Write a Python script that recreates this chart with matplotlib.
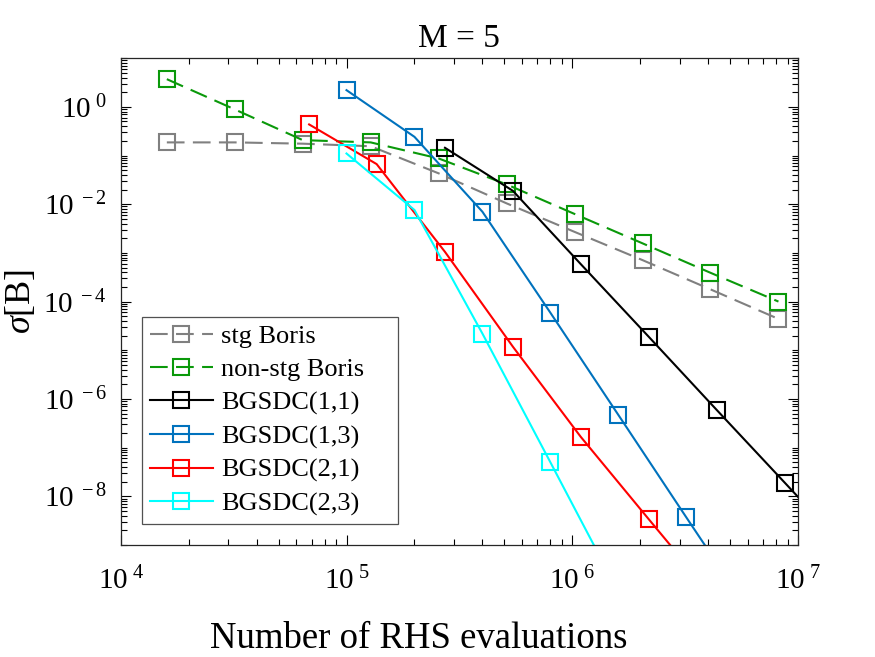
import matplotlib
matplotlib.use("Agg")
import matplotlib.pyplot as plt
import numpy as np
from matplotlib.ticker import LogLocator, FixedLocator, FuncFormatter, NullFormatter

plt.rcParams["font.family"] = ["Liberation Serif", "DejaVu Serif"]
plt.rcParams["mathtext.fontset"] = "custom"
plt.rcParams["mathtext.rm"] = "Liberation Serif"
plt.rcParams["mathtext.it"] = "Liberation Serif:italic"

# number of RHS evaluations
x_boris = [1.6e4, 3.2e4, 6.4e4, 1.28e5, 2.56e5, 5.12e5, 1.024e6, 2.048e6, 4.096e6, 8.192e6]
x_11 = [2.73e5, 5.46e5, 1.09e6, 2.18e6, 4.37e6, 8.74e6, 1.75e7]
x_13 = [1.0e5, 2.0e5, 4.0e5, 8.0e5, 1.6e6, 3.2e6, 6.4e6]
x_21 = [6.83e4, 1.36e5, 2.73e5, 5.46e5, 1.09e6, 2.18e6, 4.37e6]
x_23 = [1.0e5, 2.0e5, 4.0e5, 8.0e5, 1.6e6]

# sigma[B]
y_stg = [0.186, 0.186, 0.175, 0.155, 0.043, 0.0104, 2.7e-3, 7.1e-4, 1.78e-4, 4.4e-5]
y_nonstg = [3.7, 0.885, 0.207, 0.186, 0.087, 0.0255, 6.3e-3, 1.57e-3, 3.9e-4, 1.0e-4]
y_11 = [0.144, 0.0188, 5.9e-4, 1.9e-5, 5.9e-7, 1.9e-8, 6e-10]
y_13 = [2.2, 0.242, 7.0e-3, 5.9e-5, 4.7e-7, 3.7e-9, 3e-11]
y_21 = [0.435, 0.0666, 1.05e-3, 1.18e-5, 1.67e-7, 3.4e-9, 7e-11]
y_23 = [0.11, 7.6e-3, 2.2e-5, 5.0e-8, 1.1e-10]

labels = ["stg Boris", "non-stg Boris", "BGSDC(1,1)", "BGSDC(1,3)", "BGSDC(2,1)", "BGSDC(2,3)"]
xticks = [1e4, 1e5, 1e6, 1e7]
yticks = [1e-8, 1e-6, 1e-4, 1e-2, 1e0]

fig = plt.figure(figsize=(8.75, 6.57), dpi=100)
ax = fig.add_axes([0.138, 0.1705, 0.774, 0.741])

common = dict(marker="s", markersize=12, markerfacecolor="none", markeredgewidth=1.5, linewidth=1.5)
dash = (0, (8.5, 4))
ax.plot(x_boris, y_stg, color="#808080", linestyle=dash, label=labels[0], **common)
ax.plot(x_boris, y_nonstg, color="#0A990A", linestyle=dash, label=labels[1], **common)
ax.plot(x_11, y_11, color="black", label=labels[2], **common)
ax.plot(x_13, y_13, color="#0072BD", label=labels[3], **common)
ax.plot(x_21, y_21, color="#FF0000", label=labels[4], **common)
ax.plot(x_23, y_23, color="#00FFFF", label=labels[5], **common)

ax.set_xscale("log")
ax.set_yscale("log")
ax.set_xlim(1e4, 1e7)
ax.set_ylim(1e-9, 1e1)


def pow_fmt(v, pos):
    e = int(round(np.log10(v)))
    return r"$10^{\,\,%d}$" % e


ax.xaxis.set_major_locator(FixedLocator(xticks))
ax.xaxis.set_minor_locator(LogLocator(base=10, subs=np.arange(2, 10), numticks=20))
ax.yaxis.set_major_locator(FixedLocator(yticks))
ax.yaxis.set_minor_locator(LogLocator(base=10, subs=np.arange(1, 10), numticks=20))
ax.xaxis.set_major_formatter(FuncFormatter(pow_fmt))
ax.yaxis.set_major_formatter(FuncFormatter(pow_fmt))
ax.xaxis.set_minor_formatter(NullFormatter())
ax.yaxis.set_minor_formatter(NullFormatter())

ax.tick_params(which="both", direction="in", top=True, right=True, labelsize=21, width=0.8)
ax.tick_params(which="major", length=7)
ax.tick_params(which="minor", length=4)
ax.tick_params(axis="x", pad=16)
ax.tick_params(axis="y", pad=10)
for s in ax.spines.values():
    s.set_linewidth(0.9)
    s.set_color("#262626")

ax.set_title("M = 5", fontsize=24, pad=8)
ax.set_xlabel("Number of RHS evaluations", fontsize=26.5)
ax.xaxis.set_label_coords(0.44, -0.158)
ax.set_ylabel(r"$\mathit{\sigma}$[B]", fontsize=26, labelpad=4)

leg = ax.legend(loc="lower left", bbox_to_anchor=(0.031, 0.043, 0.378, 0.45), mode="expand",
                fontsize=19, frameon=True, fancybox=False, edgecolor="#262626",
                handlelength=2.4, borderpad=0.3, labelspacing=0.37, handletextpad=0.3,
                borderaxespad=0)
leg.get_frame().set_linewidth(0.9)

fig.savefig("out.png", dpi=100)
